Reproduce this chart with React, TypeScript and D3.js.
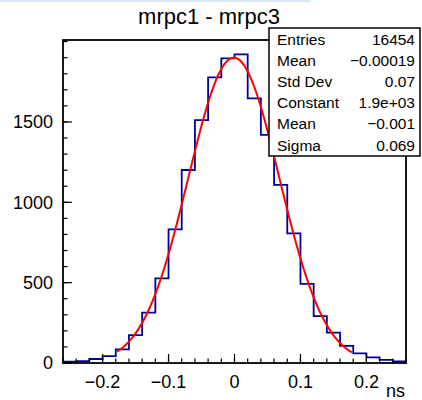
import React from "react";
import * as d3 from "d3";

const binEdgesStart = -0.26;
const binWidth = 0.02;
const binCounts = [8, 12, 25, 43, 85, 174, 313, 527, 832, 1201, 1512, 1778, 1896, 1921, 1647, 1419, 1108, 807, 492, 292, 189, 106, 60, 35, 19, 10];
const xMajorTicks = [-0.2, -0.1, 0, 0.1, 0.2];
const xTickLabels = ["−0.2", "−0.1", "0", "0.1", "0.2"];
const yMajorTicks = [0, 500, 1000, 1500];
const yTickLabels = ["0", "500", "1000", "1500"];
const statsLabels = ["Entries", "Mean", "Std Dev", "Constant", "Mean", "Sigma"];
const statsValues = ["16454", "−0.00019", "0.07", "1.9e+03", "−0.001", "0.069"];
const fitConstant = 1900;
const fitMean = -0.001;
const fitSigma = 0.069;
const fitRange = [-0.178, 0.178];
const xDomain = [-0.26, 0.26];
const yDomain = [0, 2010];
const title = "mrpc1 - mrpc3";
const xTitle = "ns";

const W = 422, H = 400;
const L = 63, R = 406, T = 40, B = 363;
const FONT = "'Liberation Sans', Arial, Helvetica, sans-serif";

export default function App() {
  const x = d3.scaleLinear().domain(xDomain).range([L, R]);
  const y = d3.scaleLinear().domain(yDomain).range([B, T]);

  const pts: [number, number][] = [];
  binCounts.forEach((c, i) => {
    const x0 = binEdgesStart + i * binWidth;
    const x1 = x0 + binWidth;
    pts.push([x(x0), y(c)]);
    pts.push([x(x1), y(c)]);
  });
  const histPath = d3.line()(pts) as string;

  const nFit = 200;
  const fitPts: [number, number][] = d3.range(nFit + 1).map((k) => {
    const xv = fitRange[0] + (k / nFit) * (fitRange[1] - fitRange[0]);
    const v = fitConstant * Math.exp(-0.5 * Math.pow((xv - fitMean) / fitSigma, 2));
    return [x(xv), y(v)];
  });
  const fitPath = d3.line().curve(d3.curveLinear)(fitPts) as string;

  const xMinor = d3.range(Math.round((xDomain[1] - xDomain[0]) / 0.02) + 1).map((k) => xDomain[0] + k * 0.02);
  const yMinor = d3.range(0, 2001, 100);

  const boxL = 269, boxT = 28, boxR = 420, boxB = 156;
  const rowH = 21.2;

  return (
    <svg width={W} height={H} style={{ position: "absolute", left: 0, top: 0, background: "#fff" }} fontFamily={FONT}>
      <rect x={0} y={0} width={W} height={H} fill="#fff" />
      <rect x={0} y={0} width={311} height={2} fill="#d6e8f6" />
      <text x={209} y={24} textAnchor="middle" fontSize={22} fill="#000">{title}</text>

      <path d={histPath} fill="none" stroke="#000096" strokeWidth={1.8} />
      <path d={fitPath} fill="none" stroke="#ff0000" strokeWidth={2} />

      <rect x={L} y={T} width={R - L} height={B - T} fill="none" stroke="#000" strokeWidth={1.8} />

      {xMinor.map((v, i) => (
        <line key={"xm" + i} x1={x(v)} x2={x(v)} y1={B} y2={B - 4.5} stroke="#000" strokeWidth={1.2} />
      ))}
      {xMajorTicks.map((v, i) => (
        <line key={"xM" + i} x1={x(v)} x2={x(v)} y1={B} y2={B - 9} stroke="#000" strokeWidth={1.2} />
      ))}
      {xMajorTicks.map((v, i) => (
        <text key={"xl" + i} x={x(v)} y={388} textAnchor="middle" fontSize={18} fill="#000">{xTickLabels[i]}</text>
      ))}
      <text x={405} y={397} textAnchor="end" fontSize={18} fill="#000">{xTitle}</text>

      {yMinor.map((v, i) => (
        <line key={"ym" + i} x1={L} x2={L + 4.5} y1={y(v)} y2={y(v)} stroke="#000" strokeWidth={1.2} />
      ))}
      {yMajorTicks.map((v, i) => (
        <line key={"yM" + i} x1={L} x2={L + 9} y1={y(v)} y2={y(v)} stroke="#000" strokeWidth={1.2} />
      ))}
      {yMajorTicks.map((v, i) => (
        <text key={"yl" + i} x={53} y={y(v)} dy="0.36em" textAnchor="end" fontSize={18} fill="#000">{yTickLabels[i]}</text>
      ))}

      <rect x={boxL} y={boxT} width={boxR - boxL} height={boxB - boxT} fill="#fff" stroke="#000" strokeWidth={1.5} />
      {statsLabels.map((s, i) => (
        <g key={"st" + i}>
          <text x={277} y={44.5 + i * rowH} fontSize={15.5} fill="#000">{s}</text>
          <text x={415} y={44.5 + i * rowH} fontSize={15.5} textAnchor="end" fill="#000">{statsValues[i]}</text>
        </g>
      ))}
    </svg>
  );
}
